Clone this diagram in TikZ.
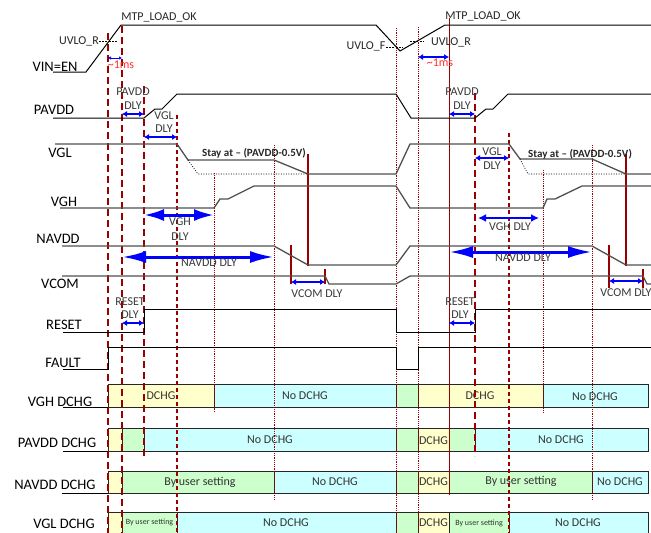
\documentclass[tikz,border=0pt]{standalone}
\usepackage{fontspec}
\setmainfont{Carlito}
\usetikzlibrary{arrows.meta}
\definecolor{dred}{HTML}{9A0000}
\definecolor{sig}{HTML}{505050}
\definecolor{byel}{HTML}{FFFFCC}
\definecolor{bcyan}{HTML}{CCFFFF}
\definecolor{bgreen}{HTML}{CCFFCC}
\definecolor{dlytxt}{HTML}{3A3A3A}
\definecolor{mstxt}{HTML}{FF3030}
\begin{document}
\begin{tikzpicture}[x=1pt,y=-1pt,
  wave/.style={line width=1pt,black},
  gwave/.style={line width=1.3pt,sig},
  vdash/.style={dred,line width=1.8pt,dash pattern=on 7pt off 4pt},
  vdashm/.style={dred,line width=1.4pt,dash pattern=on 4pt off 3pt},
  vdot/.style={dred,line width=1pt,dash pattern=on 1.2pt off 1pt},
  vsolid/.style={dred,line width=0.9pt},
  vthick/.style={dred,line width=1.8pt},
  sarr/.style={blue,line width=2.2pt,{Latex[length=5pt,width=6pt]}-{Latex[length=5pt,width=6pt]}},
  tarr/.style={blue,line width=1pt,{Latex[length=3pt,width=3.5pt]}-{Latex[length=3pt,width=3.5pt]}},
  barr/.style={blue,line width=3pt,{Latex[length=20pt,width=12pt]}-{Latex[length=20pt,width=12pt]}},
  marr/.style={blue,line width=2.5pt,{Latex[length=8pt,width=8pt]}-{Latex[length=8pt,width=8pt]}},
  lab/.style={font=\fontsize{14.5}{16}\selectfont,inner sep=0pt},
  sml/.style={font=\fontsize{12}{14}\selectfont,inner sep=0pt,text=dlytxt},
  dly/.style={font=\fontsize{12}{14}\selectfont,inner sep=0pt,text=dlytxt},
  ms/.style={font=\fontsize{12}{14}\selectfont,inner sep=0pt,text=mstxt},
  stay/.style={font=\bfseries\fontsize{11}{13}\selectfont,inner sep=0pt,text=black!85},
  seg/.style={draw=black!85,line width=1pt},
  btxt/.style={font=\fontsize{12}{14}\selectfont,inner sep=0pt,text=black!80},
  btsm/.style={font=\fontsize{8}{10}\selectfont,inner sep=0pt,text=black!80}
]
\clip (0,0) rectangle (651,533);
\fill[white] (0,0) rectangle (651,533);

% ---------- DCHG bars ----------
% row 1 VGH DCHG
\draw[seg,fill=byel]  (108,384) rectangle (214,407);
\draw[seg,fill=bcyan] (214,384) rectangle (396,407);
\draw[seg,fill=bgreen](396,384) rectangle (418,407);
\draw[seg,fill=byel]  (418,384) rectangle (543,407);
\draw[seg,fill=bcyan] (543,384) rectangle (648,407);
\node[btxt] (b11) at (161,395.5) {DCHG};
\node[btxt] (b12) at (305,395.5) {No DCHG};
\node[btxt] (b13) at (480,395.5) {DCHG};
\node[btxt] (b14) at (595,396.5) {No DCHG};
% row 2 PAVDD DCHG
\draw[seg,fill=byel]  (108,428) rectangle (122,451);
\draw[seg,fill=bgreen](122,428) rectangle (144,451);
\draw[seg,fill=bcyan] (144,428) rectangle (396,451);
\draw[seg,fill=bgreen](396,428) rectangle (418,451);
\draw[seg,fill=byel]  (418,428) rectangle (449,451);
\draw[seg,fill=bgreen](449,428) rectangle (475,451);
\draw[seg,fill=bcyan] (475,428) rectangle (648,451);
\node[btxt] (b21) at (270,439.5) {No DCHG};
\node[btxt] (b22) at (433.5,440.5) {DCHG};
\node[btxt] (b23) at (561,439.5) {No DCHG};
% row 3 NAVDD DCHG
\draw[seg,fill=byel]  (108,471) rectangle (122,493);
\draw[seg,fill=bgreen](122,471) rectangle (274,493);
\draw[seg,fill=bcyan] (274,471) rectangle (396,493);
\draw[seg,fill=bgreen](396,471) rectangle (418,493);
\draw[seg,fill=byel]  (418,471) rectangle (449,493);
\draw[seg,fill=bgreen](449,471) rectangle (592,493);
\draw[seg,fill=bcyan] (592,471) rectangle (648,493);
\node[btxt] (b31) at (200,482) {By user setting};
\node[btxt] (b32) at (335,482) {No DCHG};
\node[btxt] (b33) at (433.5,482) {DCHG};
\node[btxt] (b34) at (521,481) {By user setting};
\node[btxt] (b35) at (620,482) {No DCHG};
% row 4 VGL DCHG
\draw[seg,fill=byel]  (108,512) rectangle (122,538);
\draw[seg,fill=bgreen](122,512) rectangle (177,538);
\draw[seg,fill=bcyan] (177,512) rectangle (396,538);
\draw[seg,fill=bgreen](396,512) rectangle (418,538);
\draw[seg,fill=byel]  (418,512) rectangle (449,538);
\draw[seg,fill=bgreen](449,512) rectangle (509,538);
\draw[seg,fill=bcyan] (509,512) rectangle (648,538);
\node[btsm] (b41) at (149.5,522) {By user setting};
\node[btxt] (b42) at (286,523) {No DCHG};
\node[btxt] (b43) at (433.5,523) {DCHG};
\node[btsm] (b44) at (479,523) {By user setting};
\node[btxt] (b45) at (578,523) {No DCHG};

% ---------- vertical timing lines ----------
\draw[vdash]  (108,33) -- (108,533);
\draw[vdash]  (122,26) -- (122,533);
\draw[vdash]  (144,86) -- (144,456);
\draw[vdashm] (177,115) -- (177,533);
\draw[vdot]   (214,173) -- (214,412);
\draw[vdot]   (274,145) -- (274,500);
\draw[vdot]   (396,28) -- (396,533);
\draw[vdot]   (418,27) -- (418,533);
\draw[vsolid] (449,18) -- (449,495);
\draw[vdash]  (475,93) -- (475,456);
\draw[vdashm] (509,133) -- (509,533);
\draw[vdot]   (543,170) -- (543,413);
\draw[vdot]   (592,145) -- (592,500);
\draw[vthick] (308,154) -- (308,266);
\draw[vthick] (291,245) -- (291,284);
\draw[vthick] (325,269) -- (325,284);
\draw[vthick] (626,154) -- (626,266);
\draw[vthick] (609,245) -- (609,288);
\draw[vthick] (643,269) -- (643,288);

% ---------- waveforms ----------
\draw[wave] (53,72) -- (86,72) -- (121,25) -- (376,25) -- (400,51) -- (445,25) -- (651,25);
\draw[wave] (53,118) -- (144,118) -- (155,109) -- (162,109) -- (177,94) -- (396,94) -- (411,118) -- (475,118) -- (486,109) -- (493,109) -- (508,94) -- (651,94);
\draw[gwave] (55,144) -- (177,144) -- (188,160) -- (274,160) -- (308,174) -- (396,174) -- (410,144) -- (509,144) -- (520,159) -- (592,159) -- (626,174) -- (651,174);
\draw[black,line width=0.6pt,dash pattern=on 1pt off 1.5pt] (188,160) -- (198,174) -- (308,174);
\draw[black,line width=0.6pt,dash pattern=on 1pt off 1.5pt] (520,159) -- (528,174) -- (626,174);
\draw[gwave] (60,208) -- (214,208) -- (220,199) -- (228,199) -- (254,186) -- (396,186) -- (410,208) -- (543,208) -- (547,199) -- (555,199) -- (582,186) -- (651,186);
\draw[gwave] (62,246) -- (274,246) -- (308,265) -- (396,265) -- (410,246) -- (592,246) -- (626,265) -- (651,265);
\draw[gwave] (62,276) -- (325,276) -- (329,284) -- (396,284) -- (410,276) -- (643,276) -- (647,284) -- (651,284);
\draw[wave] (63,332) -- (144,332) -- (144,309) -- (396,309) -- (396,332) -- (475,332) -- (475,309) -- (651,309);
\draw[wave] (63,369) -- (108,369) -- (108,347) -- (396,347) -- (396,369) -- (418,369) -- (418,347) -- (651,347);
\draw[wave] (63,407) -- (108,407);
\draw[wave] (63,451) -- (108,451);
\draw[wave] (62,493) -- (108,493);

% UVLO markers
\draw[black,line width=0.9pt,dash pattern=on 2pt off 1.2pt] (99,41) -- (118,41);
\draw[black,line width=0.9pt,dash pattern=on 2pt off 1.2pt] (386,47) -- (403,47);
\draw[black,line width=0.9pt,dash pattern=on 2pt off 1.2pt] (410,41) -- (423,41);

% ---------- blue delay arrows ----------
\draw[tarr] (108,58) -- (122,58);
\draw[sarr,line width=1.6pt] (418,57) -- (449,57);
\draw[sarr] (122,114) -- (144,114);
\draw[sarr] (449,114) -- (475,114);
\draw[sarr] (144,137) -- (177,137);
\draw[sarr] (475,158) -- (509,158);
\draw[barr] (144,215) -- (214,215);
\draw[marr] (478,218) -- (539,218);
\draw[barr,{Latex[length=24pt,width=12pt]}-{Latex[length=24pt,width=12pt]}] (122,257) -- (274,257);
\draw[barr,{Latex[length=24pt,width=12pt]}-{Latex[length=24pt,width=12pt]}] (449,252) -- (592,252);
\draw[sarr] (291,282) -- (325,282);
\draw[sarr] (609,281) -- (643,281);
\draw[sarr] (122,323) -- (144,323);
\draw[sarr] (449,323) -- (475,323);

% ---------- signal labels ----------
\node[lab] (lvin) at (55,67) {VIN=EN};
\node[lab] (lpav) at (54,110) {PAVDD};
\node[lab] (lvgl) at (60,153) {VGL};
\node[lab] (lvgh) at (64,202) {VGH};
\node[lab] (lnav) at (58,239) {NAVDD};
\node[lab] (lvcm) at (60,284) {VCOM};
\node[lab] (lrst) at (64,325) {RESET};
\node[lab] (lflt) at (63,363) {FAULT};
\node[lab] (ld1) at (60,402) {VGH DCHG};
\node[lab] (ld2) at (57,443) {PAVDD DCHG};
\node[lab] (ld3) at (55,485) {NAVDD DCHG};
\node[lab] (ld4) at (64,524) {VGL DCHG};

% ---------- annotations ----------
\node[sml,text=black!85] (uvr1) at (79,41) {UVLO\_R};
\node[sml,text=black!85] (mtp1) at (159,17) {MTP\_LOAD\_OK};
\node[sml,text=black!85] (uvf)  at (366,46) {UVLO\_F};
\node[sml,text=black!85] (uvr2) at (451,42) {UVLO\_R};
\node[sml,text=black!85] (mtp2) at (483,16) {MTP\_LOAD\_OK};
\node[ms] (ms1) at (121,65) {\textasciitilde1ms};
\node[ms] (ms2) at (440,63) {\textasciitilde1ms};

\node[dly] (pd1a) at (133,92) {PAVDD};
\node[dly] (pd1b) at (133,106) {DLY};
\node[dly] (pd2a) at (462,92) {PAVDD};
\node[dly] (pd2b) at (462,106) {DLY};
\node[dly] (gl1a) at (164,116) {VGL};
\node[dly] (gl1b) at (164,129) {DLY};
\node[dly] (gl2a) at (492,152) {VGL};
\node[dly] (gl2b) at (492,166) {DLY};
\node[stay] (st1) at (254,153) {Stay at – (PAVDD-0.5V)};
\node[stay] (st2) at (580,154) {Stay at – (PAVDD-0.5V)};
\node[dly] (gh1a) at (180,222) {VGH};
\node[dly] (gh1b) at (180,237) {DLY};
\node[dly] (gh2) at (510,227) {VGH DLY};
\node[dly] (nd1) at (209,263) {NAVDD DLY};
\node[dly] (nd2) at (523,258) {NAVDD DLY};
\node[dly] (vc1) at (317,294) {VCOM DLY};
\node[dly] (vc2) at (626,293) {VCOM DLY};
\node[dly] (rd1a) at (130,302) {RESET};
\node[dly] (rd1b) at (130,315) {DLY};
\node[dly] (rd2a) at (460,302) {RESET};
\node[dly] (rd2b) at (460,315) {DLY};
\end{tikzpicture}
\end{document}
